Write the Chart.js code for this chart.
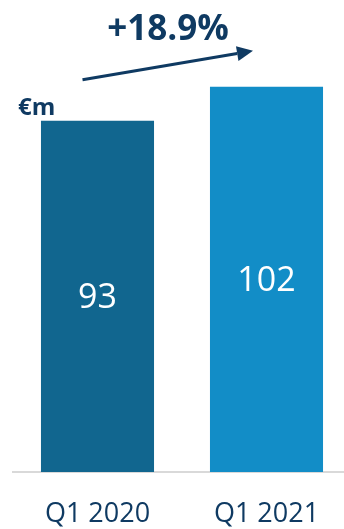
<!DOCTYPE html>
<html>
<head>
<meta charset="utf-8">
<script src="https://cdn.jsdelivr.net/npm/chart.js@4/dist/chart.umd.min.js"></script>
<style>
html,body{margin:0;padding:0;background:#fff;overflow:hidden;width:344px;height:529px;}
#wrap{position:absolute;left:0;top:0;width:351px;height:529px;}
</style>
</head>
<body>
<div id="wrap"><canvas id="c" width="351" height="529"></canvas></div>
<script>
const categories = ["Q1 2020", "Q1 2021"];
const values = [93, 102];
const barColors = ["#11668f", "#128dc7"];
const growthLabel = "+18.9%";
const unitLabel = "€m";

const navy = "#0f3a62";
const FONT = "'Open Sans', sans-serif";

const annotations = {
  id: "annotations",
  afterDatasetsDraw(chart) {
    const ctx = chart.ctx;
    const meta = chart.getDatasetMeta(0);
    const b1 = meta.data[0], b2 = meta.data[1];
    ctx.save();
    ctx.fillStyle = "#ffffff";
    ctx.font = "34px " + FONT;
    ctx.textAlign = "center";
    ctx.textBaseline = "middle";
    meta.data.forEach((bar, i) => {
      const mid = (bar.y + bar.base) / 2;
      ctx.fillText(String(values[i]), bar.x, mid + 2);
    });
    ctx.fillStyle = navy;
    ctx.font = "bold 24px " + FONT;
    ctx.textAlign = "left";
    ctx.textBaseline = "alphabetic";
    ctx.fillText(unitLabel, chart.chartArea.left + 5, b1.y - 6);
    ctx.font = "bold 35px " + FONT;
    ctx.textAlign = "center";
    ctx.fillText(growthLabel, (b1.x + b2.x) / 2 - 14, 40);
    const x0 = b1.x - 15, y0 = b1.y - 41;
    const x1 = b2.x - 13.5, y1 = b2.y - 36;
    const ang = Math.atan2(y1 - y0, x1 - x0);
    const headLen = 16, headW = 7.5;
    const bx = x1 - headLen * Math.cos(ang), by = y1 - headLen * Math.sin(ang);
    ctx.strokeStyle = navy;
    ctx.lineWidth = 3;
    ctx.beginPath();
    ctx.moveTo(x0, y0);
    ctx.lineTo(bx, by);
    ctx.stroke();
    ctx.fillStyle = navy;
    ctx.beginPath();
    ctx.moveTo(x1, y1);
    ctx.lineTo(bx + headW * Math.sin(ang), by - headW * Math.cos(ang));
    ctx.lineTo(bx - headW * Math.sin(ang), by + headW * Math.cos(ang));
    ctx.closePath();
    ctx.fill();
    ctx.restore();
  }
};

new Chart(document.getElementById("c"), {
  type: "bar",
  data: {
    labels: categories,
    datasets: [{
      data: values,
      backgroundColor: barColors,
      borderWidth: 0,
      barPercentage: 1,
      categoryPercentage: 0.669
    }]
  },
  options: {
    responsive: false,
    animation: false,
    layout: { padding: { left: 13, right: 0, top: 0, bottom: 0 } },
    plugins: { legend: { display: false }, tooltip: { enabled: false } },
    scales: {
      x: {
        grid: { display: false, drawTicks: false },
        border: { display: true, color: "#d9d9d9", width: 2 },
        ticks: { color: navy, font: { family: FONT, size: 27 }, padding: 26, maxRotation: 0 },
        afterFit(scale) { scale.height = 57; }
      },
      y: {
        display: false,
        min: 0,
        max: 125
      }
    }
  },
  plugins: [annotations]
});
</script>
</body>
</html>
